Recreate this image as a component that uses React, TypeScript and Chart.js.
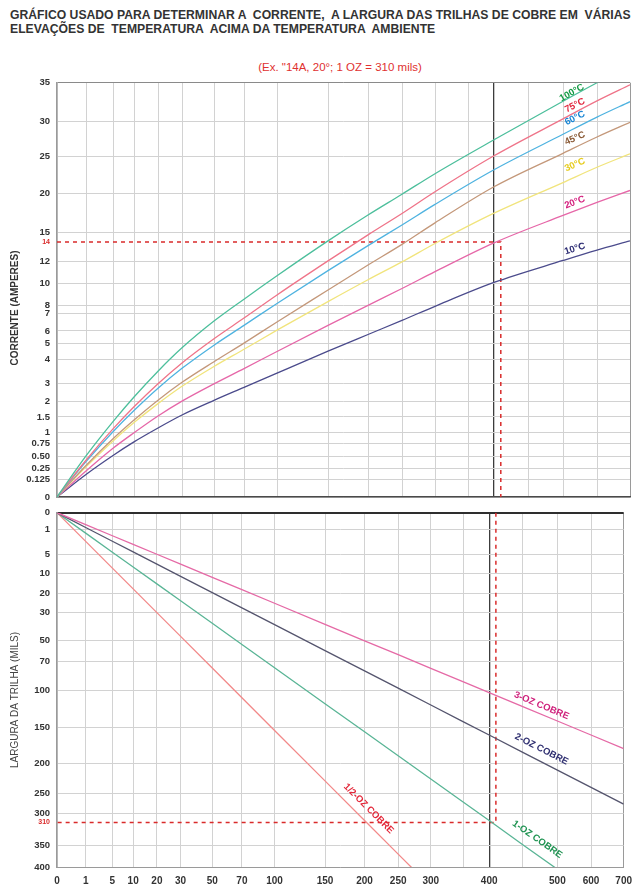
import React, { useEffect, useRef } from 'react';
import { Chart, registerables, LinearScale } from 'chart.js';

Chart.register(...registerables);

const FONT = '"Liberation Sans", Arial, Helvetica, sans-serif';

// ---------- text ----------
const TITLE_LINE_1 = 'GRÁFICO USADO PARA DETERMINAR A  CORRENTE,  A LARGURA DAS TRILHAS DE COBRE EM  VÁRIAS';
const TITLE_LINE_2 = 'ELEVAÇÕES DE  TEMPERATURA  ACIMA DA TEMPERATURA  AMBIENTE';
const SUBTITLE = '(Ex. "14A, 20°; 1 OZ = 310 mils)';
const Y_TITLE_TOP = 'CORRENTE (AMPERES)';
const Y_TITLE_BOTTOM = 'LARGURA DA TRILHA (MILS)';

// ---------- axes (nonlinear, as printed on the chart) ----------
const AREA_TICKS = [0, 1, 5, 10, 20, 30, 50, 70, 100, 150, 200, 250, 300, 350, 400, 450, 500, 600, 700];
const AREA_LABELED = [0, 1, 5, 10, 20, 30, 50, 70, 100, 150, 200, 250, 300, 400, 500, 600, 700];
const AREA_GUIDE = [57, 86, 113, 134, 158, 182, 214, 244, 277, 328, 368, 402, 435, 468, 494, 528, 563, 597, 630];

const CURRENT_TICKS = [0, 0.125, 0.25, 0.5, 0.75, 1, 1.5, 2, 3, 4, 5, 6, 7, 8, 10, 12, 14, 15, 20, 25, 30, 35];
const CURRENT_LABELS = ['0', '0.125', '0.25', '0.50', '0.75', '1', '1.5', '2', '3', '4', '5', '6', '7', '8', '10', '12', '14', '15', '20', '25', '30', '35'];
const CURRENT_GUIDE = [497, 479, 468, 456, 443, 432, 416, 400, 382, 358, 342, 329, 311, 303, 281, 259, 239, 229, 190, 153, 117, 78];

const WIDTH_TICKS = [0, 1, 5, 10, 20, 30, 50, 70, 100, 150, 200, 250, 300, 310, 350, 400];
const WIDTH_GUIDE = [509, 526, 551, 570, 591, 610, 638, 659, 689, 726, 762, 793, 813, 822, 845, 867];

// ---------- data: current (A) vs cross-section (sq mils) ----------
const AREA_TOP = [0, 1, 5, 10, 20, 30, 50, 70, 100, 150, 200, 250, 300, 400, 500, 600, 700];
const AMP_100C = [0, 0.51, 1.35, 2.23, 3.51, 4.74, 6.55, 8.55, 10.7, 14.1, 17.2, 19.9, 22.7, 27.4, 32.6, 35, 37.2];
const AMP_75C = [0, 0.42, 1.12, 1.82, 2.98, 3.86, 5.39, 6.72, 8.94, 12.08, 14.71, 17.4, 20.23, 25.15, 30.31, 32.64, 34.72];
const AMP_60C = [0, 0.39, 1.03, 1.7, 2.72, 3.63, 4.91, 6.31, 8.16, 11.18, 13.62, 15.91, 18.58, 23.24, 28.17, 30.54, 32.54];
const AMP_45C = [0, 0.31, 0.86, 1.4, 2.05, 3.04, 3.91, 5.05, 6.5, 9.39, 11.69, 13.75, 16.19, 20.91, 25.5, 27.79, 29.85];
const AMP_30C = [0, 0.28, 0.81, 1.32, 1.92, 2.83, 3.71, 4.65, 6.04, 8.33, 10.34, 11.98, 13.84, 17.44, 21.49, 23.58, 25.43];
const AMP_20C = [0, 0.22, 0.66, 1.0, 1.53, 2.0, 2.97, 3.62, 4.51, 6.31, 7.98, 9.53, 11.08, 13.9, 17.15, 18.83, 20.41];
const AMP_10C = [0, 0.18, 0.52, 0.79, 1.15, 1.56, 2.04, 2.77, 3.43, 4.53, 5.72, 6.59, 7.86, 10.09, 12.12, 13.17, 14.1];

// ---------- data: trace width (mils) vs cross-section ----------
const AREA_BOTTOM = [0, 1, 5, 10, 20, 30, 50, 70, 100, 150, 200, 250, 300, 350, 400, 450, 500, 600, 700];
const W_3OZ = [0, 0.71, 2.01, 3.4, 5, 7.63, 12.05, 18, 25, 38.4, 50.4, 63.8, 77.2, 91, 102.4, 121.5, 141.2, 160.6, 179.7];
const W_2OZ = [0, 0.88, 2.89, 4.62, 7.61, 11.57, 19.38, 27.42, 38.64, 59.81, 79.9, 97.3, 119.3, 142.3, 160.6, 184.9, 211.5, 239.7, 276.3];
const W_1OZ = [0, 1.58, 4.66, 8.37, 15.19, 23.68, 37.71, 53.9, 76.6, 117.6, 156.1, 189.7, 226, 271.5, 307.9, 349, 405.2, null, null];
const W_HALF_OZ = [0, 2.92, 8.68, 17.62, 30, 47.1, 77, 109.5, 154.2, 229, 307.8, 370.5, 445, null, null, null, null, null, null];

// example read-off
const EX_AREA = 410;
const EX_CURRENT = 14;
const EX_WIDTH = 310;

const TOP_SERIES = [
  { name: '100°C', values: AMP_100C, line: '#4dbf9c', text: '#159a45', lx: 526, ly: 33.7, angle: -29 },
  { name: '75°C', values: AMP_75C, line: '#ef7489', text: '#e2283f', lx: 535, ly: 32.05, angle: -27 },
  { name: '60°C', values: AMP_60C, line: '#4fb3e0', text: '#1a86d4', lx: 535, ly: 30.4, angle: -27 },
  { name: '45°C', values: AMP_45C, line: '#c4987a', text: '#8a5a36', lx: 535, ly: 27.6, angle: -24 },
  { name: '30°C', values: AMP_30C, line: '#f1e47c', text: '#e6cc1c', lx: 535, ly: 23.9, angle: -24 },
  { name: '20°C', values: AMP_20C, line: '#e667a8', text: '#d4207e', lx: 535, ly: 18.85, angle: -21 },
  { name: '10°C', values: AMP_10C, line: '#4b4b8c', text: '#2b2b72', lx: 535, ly: 13.3, angle: -17 },
];

const BOTTOM_SERIES = [
  { name: '3-OZ COBRE', values: W_3OZ, line: '#e56aa6', text: '#cf1f7b', lx: 477, ly: 120.3, angle: 22.6 },
  { name: '2-OZ COBRE', values: W_2OZ, line: '#55556e', text: '#2e2e70', lx: 477, ly: 180.6, angle: 27 },
  { name: '1-OZ COBRE', values: W_1OZ, line: '#5ab596', text: '#1f9352', lx: 471, ly: 339.6, angle: 35 },
  { name: '1/2-OZ COBRE', values: W_HALF_OZ, line: '#f28a8a', text: '#e3283a', lx: 206, ly: 287.5, angle: 45 },
];

const BREAKS: Record<string, { ticks: number[]; guide: number[] }> = {
  xTop: { ticks: AREA_TICKS, guide: AREA_GUIDE },
  xBot: { ticks: AREA_TICKS, guide: AREA_GUIDE },
  yTop: { ticks: CURRENT_TICKS, guide: CURRENT_GUIDE },
  yBot: { ticks: WIDTH_TICKS, guide: WIDTH_GUIDE },
};

// Scale whose value->pixel mapping follows the printed (irregular) graduations
class PiecewiseScale extends (LinearScale as any) {
  static id = 'piecewise';
  static defaults = {};
  toDecimal(value: number) {
    const b = BREAKS[(this as any).id];
    const v = b.ticks, p = b.guide, n = v.length;
    let i = 0;
    while (i < n - 2 && value > v[i + 1]) i++;
    const t = (value - v[i]) / (v[i + 1] - v[i]);
    const pos = p[i] + t * (p[i + 1] - p[i]);
    return (pos - p[0]) / (p[n - 1] - p[0]);
  }
  buildTicks() {
    const self = this as any;
    if (self.options.reverse) { self.start = self.max; self.end = self.min; }
    else { self.start = self.min; self.end = self.max; }
    return BREAKS[self.id].ticks.map((v) => ({ value: v }));
  }
  getPixelForValue(value: number) {
    if (value === null || value === undefined || Number.isNaN(value)) return NaN;
    return (this as any).getPixelForDecimal(this.toDecimal(value));
  }
  getValueForPixel(pixel: number) {
    const self = this as any;
    const d = self.getDecimalForPixel(pixel);
    const b = BREAKS[self.id];
    const v = b.ticks, p = b.guide, n = v.length;
    const pos = p[0] + d * (p[n - 1] - p[0]);
    const dir = p[n - 1] > p[0] ? 1 : -1;
    let i = 0;
    while (i < n - 2 && (pos - p[i + 1]) * dir > 0) i++;
    const t = (pos - p[i]) / (p[i + 1] - p[i]);
    return v[i] + t * (v[i + 1] - v[i]);
  }
}
Chart.register(PiecewiseScale as any);

function labelPlugin(id: string, series: any[], xId: string, yId: string, size: number) {
  return {
    id,
    afterDatasetsDraw(chart: any) {
      const ctx = chart.ctx;
      const xs = chart.scales[xId];
      const ys = chart.scales[yId];
      series.forEach((s) => {
        const px = xs.getPixelForValue(s.lx);
        const py = ys.getPixelForValue(s.ly);
        ctx.save();
        ctx.translate(px, py);
        ctx.rotate((s.angle * Math.PI) / 180);
        ctx.font = `bold ${size}px ${FONT}`;
        ctx.fillStyle = s.text;
        ctx.textAlign = 'center';
        ctx.textBaseline = 'middle';
        ctx.fillText(s.name, 0, 0);
        ctx.restore();
      });
    },
  };
}

function axisTitlePlugin(id: string, text: string, cx: number, cy: number, weight: string, color: string) {
  return {
    id,
    afterDraw(chart: any) {
      const ctx = chart.ctx;
      ctx.save();
      ctx.translate(cx, cy);
      ctx.rotate(-Math.PI / 2);
      ctx.font = `${weight} 10px ${FONT}`;
      ctx.fillStyle = color;
      ctx.textAlign = 'center';
      ctx.textBaseline = 'middle';
      ctx.fillText(text, 0, 0);
      ctx.restore();
    },
  };
}

const GRID = '#d2d2d2';
const RED = '#d92b2b';

function xAxis(showLabels: boolean) {
  return {
    type: 'piecewise',
    axis: 'x',
    position: 'bottom',
    min: 0,
    max: 700,
    grid: {
      drawTicks: false,
      color: (c: any) => (c.tick && c.tick.value === 400 ? '#3c3c3c' : c.tick && c.tick.value === 700 ? '#9a9a9a' : GRID),
      lineWidth: (c: any) => (c.tick && c.tick.value === 400 ? 1.3 : 1),
    },
    border: { color: showLabels ? '#9a9a9a' : '#4a4a4a', width: showLabels ? 1 : 1.6 },
    ticks: {
      display: showLabels,
      autoSkip: false,
      maxRotation: 0,
      minRotation: 0,
      padding: 8,
      color: '#333',
      font: { family: FONT, size: 10, weight: 'bold' },
      callback: (v: number) => (AREA_LABELED.indexOf(v) >= 0 ? String(v) : ''),
    },
    afterFit: (s: any) => { s.height = showLabels ? 19 : 0; },
  };
}

export default function App() {
  const topRef = useRef<HTMLCanvasElement>(null);
  const botRef = useRef<HTMLCanvasElement>(null);

  useEffect(() => {
    const topDatasets: any[] = TOP_SERIES.map((s) => ({
      label: s.name,
      data: AREA_TOP.map((x, i) => ({ x, y: s.values[i] })),
      borderColor: s.line,
      borderWidth: 1.3,
      pointRadius: 0,
      cubicInterpolationMode: 'monotone',
      xAxisID: 'xTop',
      yAxisID: 'yTop',
    }));
    topDatasets.push({
      label: 'exemplo',
      data: [{ x: 0, y: EX_CURRENT }, { x: EX_AREA, y: EX_CURRENT }, { x: EX_AREA, y: 0 }],
      borderColor: RED,
      borderWidth: 1.5,
      borderDash: [4, 4],
      pointRadius: 0,
      tension: 0,
      xAxisID: 'xTop',
      yAxisID: 'yTop',
    });

    const top = new Chart(topRef.current as HTMLCanvasElement, {
      type: 'line',
      data: { datasets: topDatasets },
      options: {
        responsive: false,
        animation: false,
        events: [],
        layout: { padding: { top: 8, right: 10, bottom: 13, left: 0 } },
        plugins: { legend: { display: false }, tooltip: { enabled: false } },
        scales: {
          xTop: xAxis(false),
          yTop: {
            type: 'piecewise',
            axis: 'y',
            position: 'left',
            min: 0,
            max: 35,
            grid: {
              drawTicks: false,
              color: (c: any) => (c.tick && c.tick.value === EX_CURRENT ? 'rgba(0,0,0,0)' : c.tick && c.tick.value === 35 ? '#8a8a8a' : GRID),
            },
            border: { color: '#9a9a9a', width: 1.5 },
            ticks: {
              autoSkip: false,
              padding: 7,
              color: (c: any) => (c.tick && c.tick.value === EX_CURRENT ? RED : '#333'),
              font: (c: any) => ({ family: FONT, size: c.tick && c.tick.value === EX_CURRENT ? 7 : 9.5, weight: 'bold' }),
              callback: (v: number) => CURRENT_LABELS[CURRENT_TICKS.indexOf(v)],
            },
            afterFit: (s: any) => { s.width = 57; },
          },
        } as any,
      },
      plugins: [
        labelPlugin('topLabels', TOP_SERIES, 'xTop', 'yTop', 9.5),
        axisTitlePlugin('topTitle', Y_TITLE_TOP, 15, 238, 'bold', '#333'),
      ],
    } as any);

    const botDatasets: any[] = BOTTOM_SERIES.map((s) => ({
      label: s.name,
      data: AREA_BOTTOM.map((x, i) => ({ x, y: s.values[i] })),
      borderColor: s.line,
      borderWidth: 1.3,
      pointRadius: 0,
      tension: 0,
      xAxisID: 'xBot',
      yAxisID: 'yBot',
    }));
    botDatasets.push({
      label: 'exemplo',
      data: [{ x: EX_AREA, y: 0 }, { x: EX_AREA, y: EX_WIDTH }, { x: 0, y: EX_WIDTH }],
      borderColor: RED,
      borderWidth: 1.5,
      borderDash: [4, 4],
      pointRadius: 0,
      tension: 0,
      xAxisID: 'xBot',
      yAxisID: 'yBot',
    });

    const bot = new Chart(botRef.current as HTMLCanvasElement, {
      type: 'line',
      data: { datasets: botDatasets },
      options: {
        responsive: false,
        animation: false,
        events: [],
        layout: { padding: { top: 9, right: 10, bottom: 0, left: 0 } },
        plugins: { legend: { display: false }, tooltip: { enabled: false } },
        scales: {
          xBot: xAxis(true),
          yBot: {
            type: 'piecewise',
            axis: 'y',
            position: 'left',
            reverse: true,
            min: 0,
            max: 400,
            grid: {
              drawTicks: false,
              color: (c: any) => (c.tick && c.tick.value === EX_WIDTH ? 'rgba(0,0,0,0)' : c.tick && c.tick.value === 0 ? '#2e2e2e' : GRID),
              lineWidth: (c: any) => (c.tick && c.tick.value === 0 ? 2 : 1),
            },
            border: { color: '#9a9a9a', width: 1.5 },
            ticks: {
              autoSkip: false,
              padding: 7,
              color: (c: any) => (c.tick && c.tick.value === EX_WIDTH ? RED : '#333'),
              font: (c: any) => ({ family: FONT, size: c.tick && c.tick.value === EX_WIDTH ? 7 : 9.5, weight: 'bold' }),
              callback: (v: number) => String(v),
            },
            afterFit: (s: any) => { s.width = 57; },
          },
        } as any,
      },
      plugins: [
        labelPlugin('botLabels', BOTTOM_SERIES, 'xBot', 'yBot', 9.5),
        axisTitlePlugin('botTitle', Y_TITLE_BOTTOM, 15, 200, 'normal', '#444'),
      ],
    } as any);

    return () => {
      top.destroy();
      bot.destroy();
    };
  }, []);

  return (
    <div style={{ position: 'absolute', left: 0, top: 0, width: 640, height: 886, background: '#fff', fontFamily: FONT, overflow: 'hidden' }}>
      <div style={{ position: 'absolute', left: 10, top: 8, fontSize: 12.2, fontWeight: 'bold', lineHeight: '14px', color: '#333', whiteSpace: 'pre' }}>
        {TITLE_LINE_1}
        <br />
        {TITLE_LINE_2}
      </div>
      <div style={{ position: 'absolute', left: 140, top: 60, width: 400, textAlign: 'center', fontSize: 11.5, lineHeight: '14px', color: '#e03030' }}>{SUBTITLE}</div>
      <canvas ref={topRef} width={640} height={440} style={{ position: 'absolute', left: 0, top: 70, width: 640, height: 440 }} />
      <canvas ref={botRef} width={640} height={386} style={{ position: 'absolute', left: 0, top: 500, width: 640, height: 386 }} />
    </div>
  );
}
